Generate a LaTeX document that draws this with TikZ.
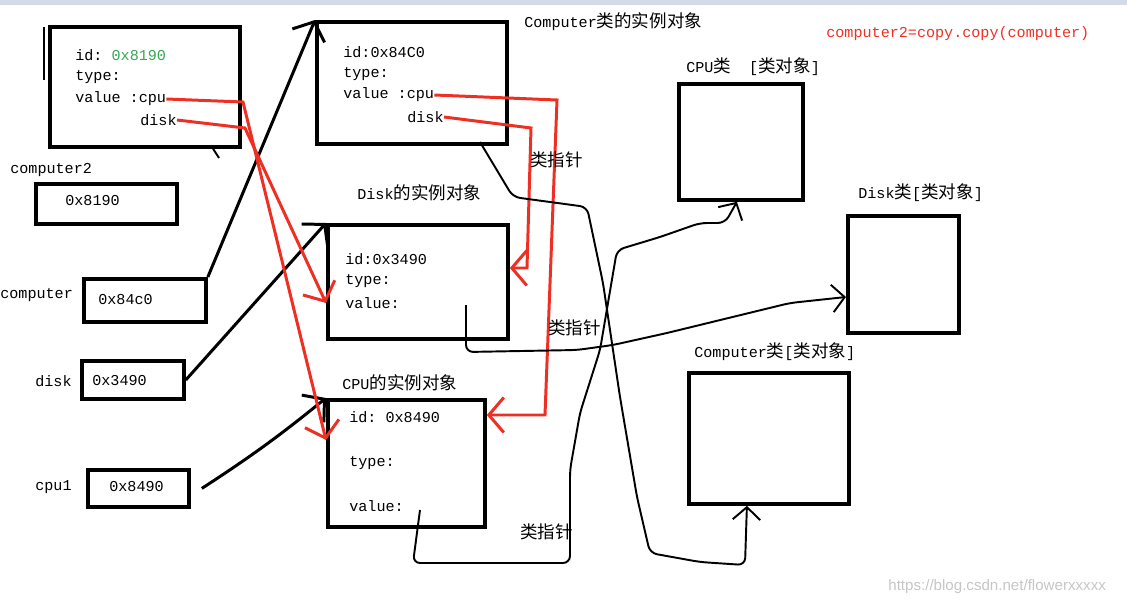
\documentclass[tikz,border=0pt]{standalone}
\usepackage{fontspec}
\setmonofont{Liberation Mono}
\newfontfamily\cjk[Scale=1.16]{Noto Sans CJK SC}
\newfontfamily\wmfont{Liberation Sans}
\usepackage{tikz}
\usetikzlibrary{arrows.meta}
\definecolor{penred}{RGB}{238,48,36}
\definecolor{idgreen}{RGB}{52,168,83}
\definecolor{topbar}{RGB}{212,219,232}

\begin{document}
\begin{tikzpicture}[x=0.02cm, y=-0.02cm,
  box/.style={draw, line width=2.2pt, anchor=north west, inner sep=0},
  lbl/.style={anchor=west, inner sep=0, font=\ttfamily\fontsize{8.6}{10}\selectfont},
  ptr/.style={line width=1.7pt, -{Straight Barb[length=0.3cm,width=0.7cm]}},
  refp/.style={penred, line width=1.7pt, -{Straight Barb[length=0.3cm,width=0.7cm]}},
  clsp/.style={line width=1.1pt, rounded corners=4pt, -{Straight Barb[length=0.25cm,width=0.55cm]}}]
  \useasboundingbox (0,0) rectangle (1127,605);
  \fill[topbar] (0,0) rectangle (1127,5);

  % instance objects
  \node[box, minimum width=3.8cm, minimum height=2.4cm] (c2obj) at (48,25) {};
  \node[lbl] (c2id) at (75,55) {id: \textcolor{idgreen}{0x8190}};
  \node[lbl] (c2type) at (75,77) {type:};
  \node[lbl] (c2val) at (75,99) {value :cpu};
  \node[lbl] (c2disk) at (140,120) {disk};

  \node[box, minimum width=3.8cm, minimum height=2.44cm] (compobj) at (315,20) {};
  \node[lbl] (comptitle) at (524,22) {Computer{\cjk 类的实例对象}};
  \node[lbl] (compid) at (343,52) {id:0x84C0};
  \node[lbl] (comptype) at (343,74) {type:};
  \node[lbl] (compval) at (343,95) {value :cpu};
  \node[lbl] (compdisk) at (407,117) {disk};

  \node[box, minimum width=3.6cm, minimum height=2.28cm] (diskobj) at (326,223) {};
  \node[lbl] (disktitle) at (357,193) {Disk{\cjk 的实例对象}};
  \node[lbl] (diskid) at (345,259) {id:0x3490};
  \node[lbl] (disktype) at (345,281) {type:};
  \node[lbl] (diskval) at (345,303) {value:};

  \node[box, minimum width=3.14cm, minimum height=2.54cm] (cpuobj) at (326,398) {};
  \node[lbl] (cputitle) at (342,383) {CPU{\cjk 的实例对象}};
  \node[lbl] (cpuid) at (349,417) {id: 0x8490};
  \node[lbl] (cputype) at (349,463) {type:};
  \node[lbl] (cpuval) at (349,506) {value:};

  % variables
  \node[lbl] (c2name) at (10,170) {computer2};
  \node[box, minimum width=2.82cm, minimum height=0.8cm] (c2var) at (34,182) {};
  \node[lbl] (c2addr) at (65,201) {0x8190};
  \node[lbl] (compname) at (0,295) {computer};
  \node[box, minimum width=2.44cm, minimum height=0.86cm] (compvar) at (82,277) {};
  \node[lbl] (compaddr) at (98,300) {0x84c0};
  \node[lbl] (diskname) at (35,381) {disk};
  \node[box, minimum width=2.04cm, minimum height=0.76cm] (diskvar) at (80,359) {};
  \node[lbl] (diskaddr) at (92,381) {0x3490};
  \node[lbl] (cpuname) at (35,487) {cpu1};
  \node[box, minimum width=2.02cm, minimum height=0.74cm] (cpuvar) at (86,468) {};
  \node[lbl] (cpuaddr) at (109,487) {0x8490};

  % class objects
  \node[box, minimum width=2.48cm, minimum height=2.32cm] (cpucls) at (677,82) {};
  \node[lbl] (cpuclstitle) at (686,67) {CPU{\cjk 类}\ \ [{\cjk 类对象}]};
  \node[box, minimum width=2.22cm, minimum height=2.34cm] (diskcls) at (846,214) {};
  \node[lbl] (diskclstitle) at (858,193) {Disk{\cjk 类}[{\cjk 类对象}]};
  \node[box, minimum width=3.2cm, minimum height=2.62cm] (compcls) at (687,371) {};
  \node[lbl] (compclstitle) at (694,352) {Computer{\cjk 类}[{\cjk 类对象}]};

  \node[lbl, text=penred] (copycall) at (826,34) {computer2=copy.copy(computer)};
  \node[anchor=west, inner sep=0, text=gray!45, font=\wmfont\fontsize{8.6}{10}\selectfont] (wmark) at (888,587) {https://blog.csdn.net/flowerxxxxx};

  % variable -> instance
  \draw[line width=1.7pt] (44,27) -- (44,80);
  \draw[line width=1.1pt] (212,147) -- (219,158);
  \draw[ptr] (compvar.north east) -- (compobj.north west);
  \draw[ptr] (diskvar.east) -- (diskobj.north west);
  \draw[ptr] ([xshift=0.22cm]cpuvar.east) to[bend right=3] (cpuobj.north west);

  % references inside the objects
  \draw[refp] (c2val.east) -- (243,102) -- (cpuobj.west |- 0,440);
  \draw[refp] (c2disk.east) -- (245,128) -- (diskobj.west |- 0,303);
  \draw[refp] (compval.east) -- (557,100) -- (545,415) -- (cpuobj.east |- 0,415);
  \draw[refp] (compdisk.east) -- (531,128) -- (527,268) -- (diskobj.east |- 0,268);

  % class pointers
  \coordinate (compcp) at (480,142);
  \coordinate (diskcp) at (466,305);
  \coordinate (cpucp) at (420,510);
  \node[lbl] (ptrlbl1) at (530,160) {{\cjk 类指针}};
  \node[lbl] (ptrlbl2) at (548,328) {{\cjk 类指针}};
  \node[lbl] (ptrlbl3) at (520,532) {{\cjk 类指针}};
  \draw[clsp] (compcp) -- (513,197) -- (587,207) -- (603,283) -- (620,397) -- (637,497) -- (650,553) -- (700,562) -- (745,565) -- ([xshift=-0.44cm]compcls.south);
  \draw[clsp] (diskcp) -- (466,352) -- (577,350) -- (613,345) -- (667,333) -- (790,303) -- (diskcls.west |- 0,297);
  \draw[clsp] (cpucp) -- (413,563) -- (570,563) -- (570,470) -- (580,413) -- (600,350) -- (617,250) -- (660,237) -- (700,223) -- (725,223) -- ([xshift=-0.08cm]cpucls.south);
\end{tikzpicture}
\end{document}
